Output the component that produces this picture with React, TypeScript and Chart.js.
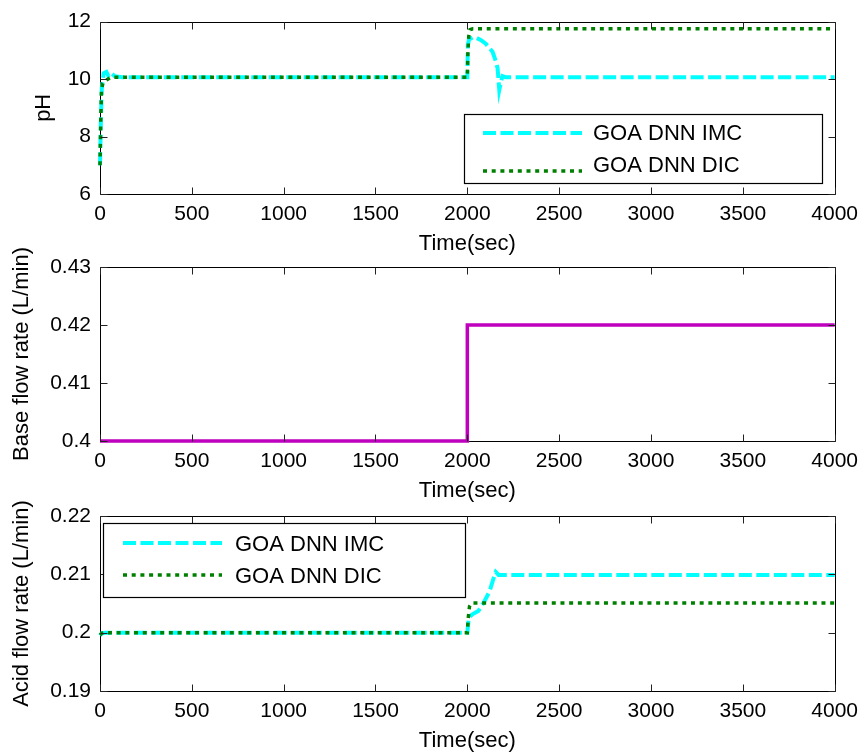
import React, { useEffect, useRef } from 'react';
import { Chart, registerables } from 'chart.js';
Chart.register(...registerables);

// ---------- data ----------
const timeTicks = [0, 500, 1000, 1500, 2000, 2500, 3000, 3500, 4000];
const phTicks = [6, 8, 10, 12];
const baseTicks = [0.4, 0.41, 0.42, 0.43];
const acidTicks = [0.19, 0.2, 0.21, 0.22];

const seriesImc = 'GOA DNN IMC';
const seriesDic = 'GOA DNN DIC';

const phImcTime = [0, 5, 10, 20, 35, 45, 60, 80, 120, 2000, 2003, 2010, 2030, 2050, 2075, 2102, 2138, 2156, 2165, 2174, 2183, 2192, 2210, 4000];
const phImc = [7.0, 8.6, 9.7, 10.2, 10.25, 10.12, 10.22, 10.1, 10.06, 10.06, 11.2, 11.38, 11.45, 11.43, 11.35, 11.22, 10.94, 10.6, 10.37, 9.62, 9.9, 10.1, 10.06, 10.06];
const phDicTime = [0, 4, 8, 15, 30, 60, 2000, 2003, 2008, 2015, 2030, 4000];
const phDic = [7.0, 8.5, 9.6, 9.85, 9.95, 10.06, 10.06, 10.9, 11.5, 11.72, 11.75, 11.75];

const baseTime = [0, 2000, 2000, 4000];
const baseFlow = [0.4, 0.4, 0.42, 0.42];

const acidImcTime = [0, 10, 30, 2000, 2008, 2025, 2060, 2090, 2120, 2145, 2155, 2170, 4000];
const acidImc = [0.1995, 0.1999, 0.2, 0.2, 0.2025, 0.2031, 0.2037, 0.2052, 0.207, 0.2095, 0.2104, 0.2099, 0.2099];
const acidDicTime = [0, 10, 30, 2000, 2005, 2012, 2025, 4000];
const acidDic = [0.1996, 0.1999, 0.2, 0.2, 0.2025, 0.2045, 0.2051, 0.2051];

// ---------- helpers ----------
const zip = (t: number[], v: number[]) => t.map((x, i) => ({ x, y: v[i] }));
const FONT = '"Liberation Sans", Arial, Helvetica, sans-serif';
const W = 866;
const H = 755;

const CYAN = '#00FFFF';
const GREEN = '#008000';
const MAGENTA = '#BF00BF';

const imcStyle = { borderColor: CYAN, borderWidth: 4, borderDash: [13, 4.5] };
const dicStyle = { borderColor: GREEN, borderWidth: 3.5, borderDash: [4, 4.7] };

const boxPlugin = {
  id: 'mbox',
  beforeDatasetsDraw(chart: any) {
    const { ctx, chartArea: a } = chart;
    const l = Math.round(a.left) + 0.5;
    const r = Math.round(a.right) + 0.5;
    const t = Math.round(a.top) + 0.5;
    const b = Math.round(a.bottom) + 0.5;
    ctx.save();
    ctx.setLineDash([]);
    ctx.strokeStyle = '#000';
    ctx.lineWidth = 1;
    ctx.beginPath();
    ctx.rect(l, t, r - l, b - t);
    ctx.stroke();
    ctx.restore();
  },
  afterDraw(chart: any, _args: any, opts: any) {
    const { ctx, chartArea: a, scales } = chart;
    const xt: number[] = (opts && opts.xTicks) || [];
    const yt: number[] = (opts && opts.yTicks) || [];
    const l = Math.round(a.left) + 0.5;
    const r = Math.round(a.right) + 0.5;
    const t = Math.round(a.top) + 0.5;
    const b = Math.round(a.bottom) + 0.5;
    const L = 7;
    ctx.save();
    ctx.setLineDash([]);
    ctx.strokeStyle = '#222';
    ctx.lineWidth = 1;
    ctx.beginPath();
    for (const v of xt) {
      const px = Math.round(scales.x.getPixelForValue(v)) + 0.5;
      ctx.moveTo(px, b);
      ctx.lineTo(px, b - L);
      ctx.moveTo(px, t);
      ctx.lineTo(px, t + L);
    }
    for (const v of yt) {
      const py = Math.round(scales.y.getPixelForValue(v)) + 0.5;
      ctx.moveTo(l, py);
      ctx.lineTo(l + L, py);
      ctx.moveTo(r, py);
      ctx.lineTo(r - L, py);
    }
    ctx.stroke();
    ctx.restore();
  },
};

const legendPlugin = {
  id: 'mlegend',
  afterDraw(chart: any, _args: any, opts: any) {
    if (!opts || !opts.box) return;
    const { ctx } = chart;
    const { box, lineY, textY, lineX1, lineX2, textX } = opts;
    ctx.save();
    ctx.fillStyle = '#fff';
    ctx.fillRect(box.left, box.top, box.right - box.left, box.bottom - box.top);
    ctx.strokeStyle = '#000';
    ctx.lineWidth = 1.2;
    ctx.strokeRect(box.left + 0.5, box.top + 0.5, box.right - box.left, box.bottom - box.top);
    chart.data.datasets
      .slice()
      .sort((p: any, q: any) => (p.legendIndex ?? 0) - (q.legendIndex ?? 0))
      .forEach((ds: any, i: number) => {
        ctx.strokeStyle = ds.borderColor;
        ctx.lineWidth = ds.borderWidth;
        ctx.setLineDash(ds.borderDash || []);
        ctx.beginPath();
        ctx.moveTo(lineX1, lineY[i]);
        ctx.lineTo(lineX2, lineY[i]);
        ctx.stroke();
        ctx.setLineDash([]);
        ctx.fillStyle = '#000';
        ctx.font = `22px ${FONT}`;
        ctx.textBaseline = 'middle';
        ctx.textAlign = 'left';
        ctx.fillText(ds.label, textX, textY[i]);
      });
    ctx.restore();
  },
};

type PanelCfg = {
  datasets: any[];
  yMin: number;
  yMax: number;
  yTicks: number[];
  yTitle: string;
  yTitlePad: number;
  top: number;
  bottom: number;
  legend?: any;
};

function Panel({ cfg }: { cfg: PanelCfg }) {
  const ref = useRef<HTMLCanvasElement | null>(null);
  useEffect(() => {
    if (!ref.current) return;
    const xAxisH = 63;
    const chart = new Chart(ref.current, {
      type: 'scatter',
      data: { datasets: cfg.datasets },
      plugins: [boxPlugin, legendPlugin],
      options: {
        animation: false,
        responsive: false,
        maintainAspectRatio: false,
        events: [],
        layout: { padding: { top: cfg.top, left: 0, right: 27, bottom: H - cfg.bottom - xAxisH } },
        elements: { point: { radius: 0 }, line: { tension: 0 } },
        plugins: {
          legend: { display: false },
          tooltip: { enabled: false },
          mbox: { xTicks: timeTicks, yTicks: cfg.yTicks },
          mlegend: cfg.legend || {},
        } as any,
        scales: {
          x: {
            type: 'linear',
            min: 0,
            max: 4000,
            grid: { display: false, drawTicks: false },
            border: { display: false },
            afterBuildTicks: (s: any) => {
              s.ticks = timeTicks.map((v) => ({ value: v }));
            },
            afterFit: (s: any) => {
              s.height = xAxisH;
            },
            ticks: {
              autoSkip: false,
              maxRotation: 0,
              padding: 8,
              color: '#000',
              font: { family: FONT, size: 21 },
              callback: (v: any) => String(v),
            },
            title: {
              display: true,
              text: 'Time(sec)',
              color: '#000',
              font: { family: FONT, size: 22 },
              padding: { top: 0, bottom: 0 },
            },
          },
          y: {
            type: 'linear',
            min: cfg.yMin,
            max: cfg.yMax,
            grid: { display: false, drawTicks: false },
            border: { display: false },
            afterBuildTicks: (s: any) => {
              s.ticks = cfg.yTicks.map((v) => ({ value: v }));
            },
            afterFit: (s: any) => {
              s.width = 100;
            },
            ticks: {
              autoSkip: false,
              padding: 9,
              color: '#000',
              font: { family: FONT, size: 21 },
              callback: (v: any) => String(Math.round(v * 1000) / 1000),
            },
            title: {
              display: true,
              text: cfg.yTitle,
              color: '#000',
              font: { family: FONT, size: 22 },
              padding: { top: cfg.yTitlePad, bottom: 0 },
            },
          },
        },
      } as any,
    });
    return () => chart.destroy();
  }, [cfg]);
  return (
    <canvas
      ref={ref}
      width={W}
      height={H}
      style={{ position: 'absolute', left: 0, top: 0, width: W, height: H }}
    />
  );
}

const mk = (label: string, t: number[], v: number[], style: any, order: number, legendIndex: number) => ({
  label,
  data: zip(t, v),
  showLine: true,
  fill: false,
  pointRadius: 0,
  clip: false,
  order,
  legendIndex,
  borderCapStyle: 'butt',
  ...style,
});

const panels: PanelCfg[] = [
  {
    datasets: [
      mk(seriesImc, phImcTime, phImc, imcStyle, 1, 0),
      mk(seriesDic, phDicTime, phDic, dicStyle, 0, 1),
    ],
    yMin: 6,
    yMax: 12,
    yTicks: phTicks,
    yTitle: 'pH',
    yTitlePad: 31,
    top: 19,
    bottom: 194,
    legend: {
      box: { left: 464, top: 114, right: 822, bottom: 183 },
      lineY: [133, 171],
      textY: [134, 166],
      lineX1: 483,
      lineX2: 582,
      textX: 593,
    },
  },
  {
    datasets: [mk('Base flow rate', baseTime, baseFlow, { borderColor: MAGENTA, borderWidth: 3.5 }, 0, 0)],
    yMin: 0.4,
    yMax: 0.43,
    yTicks: baseTicks,
    yTitle: 'Base flow rate (L/min)',
    yTitlePad: 9,
    top: 267,
    bottom: 441,
  },
  {
    datasets: [
      mk(seriesImc, acidImcTime, acidImc, imcStyle, 1, 0),
      mk(seriesDic, acidDicTime, acidDic, dicStyle, 0, 1),
    ],
    yMin: 0.19,
    yMax: 0.22,
    yTicks: acidTicks,
    yTitle: 'Acid flow rate (L/min)',
    yTitlePad: 9,
    top: 516,
    bottom: 691,
    legend: {
      box: { left: 103, top: 523, right: 465, bottom: 597 },
      lineY: [543, 575],
      textY: [545, 577],
      lineX1: 123,
      lineX2: 222,
      textX: 235,
    },
  },
];

export default function App() {
  return (
    <div style={{ position: 'fixed', left: 0, top: 0, width: W, height: H, background: '#fff' }}>
      {panels.map((p, i) => (
        <Panel key={i} cfg={p} />
      ))}
    </div>
  );
}
